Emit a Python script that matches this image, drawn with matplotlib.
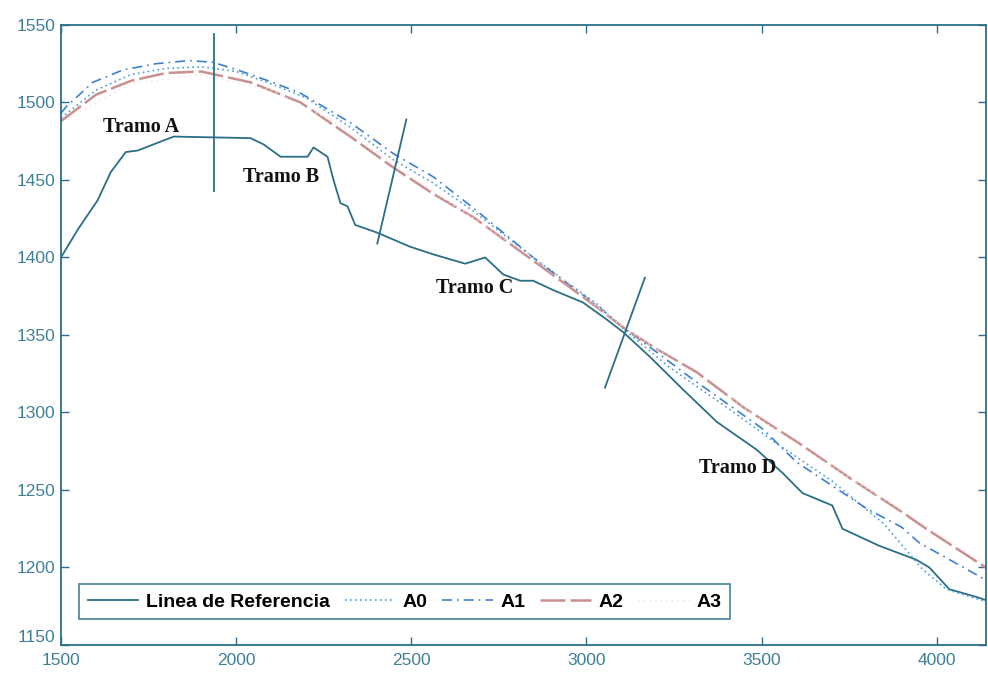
import matplotlib
matplotlib.use("Agg")
import matplotlib.pyplot as plt

# ---- data ----
ref_x = [1500, 1548, 1605, 1642, 1685, 1719, 1776, 1822, 2041, 2078, 2127, 2204, 2221, 2261,
         2278, 2298, 2318, 2340, 2403, 2496, 2563, 2654, 2711, 2763, 2811, 2848, 2905, 2990,
         3058, 3104, 3181, 3275, 3372, 3486, 3560, 3617, 3702, 3731, 3836, 3942, 3979, 4036,
         4113, 4140]
ref_y = [1400, 1418, 1437, 1455, 1468, 1469, 1474, 1478, 1477, 1473, 1465, 1465, 1471, 1465,
         1450, 1435, 1433, 1421, 1416, 1407, 1402, 1396, 1400, 1389, 1385, 1385, 1379, 1371,
         1360, 1352, 1336, 1315, 1294, 1276, 1261, 1248, 1240, 1225, 1214, 1205, 1200, 1186,
         1181, 1179]

a0_x = [1500, 1600, 1700, 1800, 1900, 2000, 2100, 2200, 2326, 2449, 2563, 2677, 2848, 3030,
        3110, 3238, 3409, 3543, 3700, 3850, 3959, 4027, 4140]
a0_y = [1490, 1508, 1518, 1522, 1523, 1520, 1512, 1503, 1484, 1463, 1448, 1430, 1400, 1370,
        1353, 1329, 1302, 1280, 1256, 1228, 1199, 1186, 1178]

a1_x = [1500, 1514, 1591, 1677, 1771, 1865, 1933, 2004, 2104, 2184, 2326, 2449, 2563, 2677,
        2848, 3030, 3110, 3200, 3300, 3400, 3500, 3600, 3700, 3800, 3900, 3950, 4140]
a1_y = [1493, 1497, 1513, 1521, 1525, 1527, 1526, 1521, 1513, 1506, 1487, 1467, 1452, 1432,
        1400, 1369, 1354, 1339, 1322, 1306, 1290, 1268, 1253, 1238, 1226, 1216, 1192]

a2_x = [1500, 1600, 1700, 1800, 1900, 2041, 2184, 2326, 2449, 2563, 2677, 2848, 3030, 3110,
        3200, 3315, 3450, 3608, 3750, 3893, 3970, 4140]
a2_y = [1488, 1505, 1514, 1519, 1520, 1513, 1500, 1478, 1458, 1441, 1426, 1398, 1368, 1354,
        1341, 1326, 1303, 1280, 1258, 1237, 1225, 1200]

a3_x = [1500, 1700, 1900, 2100, 2300, 2500, 2700, 2900, 3100, 3300, 3500, 3700, 3900, 4140]
a3_y = [1487, 1512, 1518, 1508, 1485, 1452, 1422, 1392, 1356, 1326, 1295, 1265, 1237, 1202]

sec_lines = [([1936, 1936], [1544, 1443]),
             ([2486, 2403], [1489, 1409]),
             ([3167, 3053], [1387, 1316])]

labels = [("Tramo A", 1728, 1484), ("Tramo B", 2127, 1452),
          ("Tramo C", 2682, 1380), ("Tramo D", 3431, 1264)]

legend_names = ["Linea de Referencia", "A0", "A1", "A2", "A3"]
xticks = [1500, 2000, 2500, 3000, 3500, 4000]
yticks = [1150, 1200, 1250, 1300, 1350, 1400, 1450, 1500, 1550]

# ---- figure ----
teal = "#2b6f86"
fig = plt.figure(figsize=(9.88, 6.73), dpi=100)
ax = fig.add_axes([0.0617, 0.0416, 0.936, 0.9213])

ax.plot(ref_x, ref_y, color=teal, lw=1.3, label=legend_names[0])
ax.plot(a0_x, a0_y, color="#4a9fd8", lw=1.2, ls=(0, (1, 2)), label=legend_names[1])
ax.plot(a1_x, a1_y, color="#3f7fd0", lw=1.2, ls=(0, (6, 3, 1, 3)), label=legend_names[2])
ax.plot(a2_x, a2_y, color="#c99090", lw=1.8, ls=(0, (10, 2)), label=legend_names[3])
ax.plot(a3_x, a3_y, color="#ece4de", lw=1.0, ls=(0, (1, 3)), label=legend_names[4])

for xs, ys in sec_lines:
    ax.plot(xs, ys, color=teal, lw=1.3)

for txt, x, y in labels:
    ax.text(x, y, txt, ha="center", va="center", fontsize=14.5, fontweight="bold",
            family=["Liberation Serif", "DejaVu Serif"], color="#111111")

ax.set_xlim(1500, 4140)
ax.set_ylim(1150, 1550)
ax.set_xticks(xticks)
ax.set_yticks(yticks)
ax.tick_params(direction="in", top=True, right=True, length=6, width=1, colors=teal,
               labelsize=12.5, labelcolor="#3f8096")
ax.tick_params(axis="x", pad=5.5)
ax.tick_params(axis="y", pad=4)
for lab in ax.get_xticklabels() + ax.get_yticklabels():
    lab.set_family(["Liberation Sans Narrow", "Liberation Sans", "DejaVu Sans"])
ylabs = ax.get_yticklabels()
ylabs[0].set_verticalalignment("bottom")

leg = ax.legend(loc="lower left", bbox_to_anchor=(0.0195, 0.0415), borderaxespad=0,
                ncol=5, handlelength=2.6, frameon=True, fancybox=False,
                borderpad=0.45, columnspacing=0.75, handletextpad=0.4,
                prop={"weight": "bold", "size": 14, "family": ["Liberation Sans", "DejaVu Sans"]})
leg.get_frame().set_edgecolor(teal)
leg.get_frame().set_linewidth(1.3)
for s in ax.spines.values():
    s.set_color(teal)
    s.set_linewidth(1.3)

fig.savefig("out.png", dpi=100)
